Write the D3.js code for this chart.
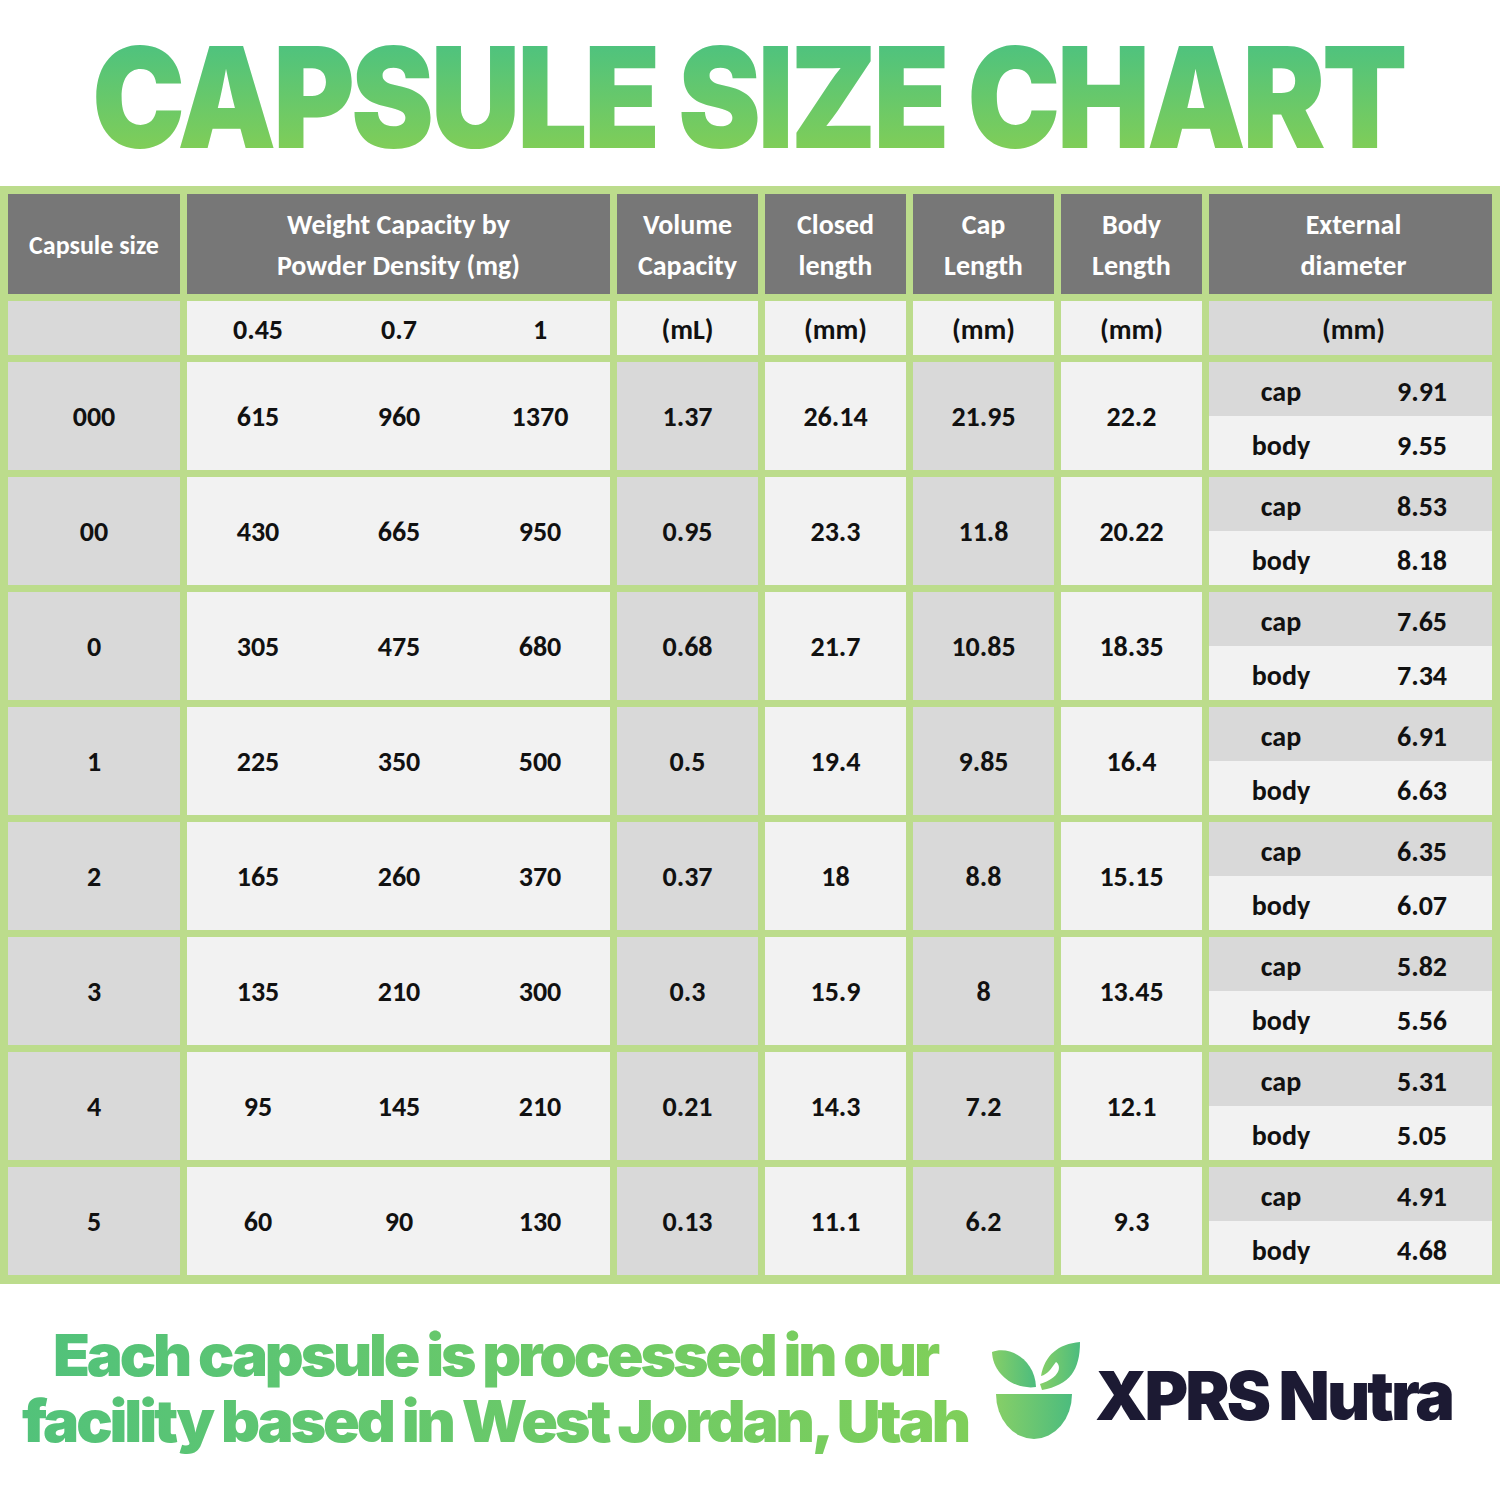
<!DOCTYPE html>
<html><head><meta charset="utf-8">
<script src="https://cdn.jsdelivr.net/npm/d3@7"></script>
<style>body{margin:0;background:#fff}svg{display:block}</style>
</head><body>
<script>
const sizes = ["000","00","0","1","2","3","4","5"];
const densities = ["0.45","0.7","1"];
const weight045 = [615,430,305,225,165,135,95,60];
const weight07 = [960,665,475,350,260,210,145,90];
const weight1 = [1370,950,680,500,370,300,210,130];
const volume = ["1.37","0.95","0.68","0.5","0.37","0.3","0.21","0.13"];
const closedLen = ["26.14","23.3","21.7","19.4","18","15.9","14.3","11.1"];
const capLen = ["21.95","11.8","10.85","9.85","8.8","8","7.2","6.2"];
const bodyLen = ["22.2","20.22","18.35","16.4","15.15","13.45","12.1","9.3"];
const capDiam = ["9.91","8.53","7.65","6.91","6.35","5.82","5.31","4.91"];
const bodyDiam = ["9.55","8.18","7.34","6.63","6.07","5.56","5.05","4.68"];
const headers = [["Capsule size"],["Weight Capacity by","Powder Density (mg)"],["Volume","Capacity"],["Closed","length"],["Cap","Length"],["Body","Length"],["External","diameter"]];
const units = ["","", "(mL)","(mm)","(mm)","(mm)","(mm)"];

const W=1500,H=1500;
const svg=d3.select("body").append("svg").attr("width",W).attr("height",H);
const defs=svg.append("defs");
const g1=defs.append("linearGradient").attr("id","tg").attr("x1",0).attr("y1",0).attr("x2",0).attr("y2",1);
g1.append("stop").attr("offset","0").attr("stop-color","#3fbf8a");
g1.append("stop").attr("offset","1").attr("stop-color","#8fd14c");
const g2=defs.append("linearGradient").attr("id","fg").attr("x1",0).attr("y1",0).attr("x2",1).attr("y2",0);
g2.append("stop").attr("offset","0").attr("stop-color","#52c27a");
g2.append("stop").attr("offset","1").attr("stop-color","#7fcf5a");
const g3=defs.append("linearGradient").attr("id","lg").attr("x1",0).attr("y1",0).attr("x2",1).attr("y2",0);
g3.append("stop").attr("offset","0").attr("stop-color","#86cf67");
g3.append("stop").attr("offset","1").attr("stop-color","#4cbc7e");

// title
svg.append("text").attr("x",748).attr("y",148).attr("text-anchor","middle")
 .attr("font-family","Inter").attr("font-weight",900).attr("font-size",140).attr("letter-spacing",-4)
 .attr("fill","url(#tg)").attr("textLength",1312).attr("lengthAdjust","spacingAndGlyphs").text("CAPSULE SIZE CHART");

// table
const green="#bcdc8c";
svg.append("rect").attr("x",0).attr("y",186).attr("width",1500).attr("height",1098).attr("fill",green);
const colEdges=[8,187,617,765,913,1061,1209,1499];
const x=d3.scaleOrdinal().domain(d3.range(7)).range(colEdges.slice(0,7));
const cw=i=>colEdges[i+1]-colEdges[i]-7;
const y=d3.scaleBand().domain(sizes).range([362,1282]).paddingInner(0);
const rh=y.bandwidth()-7;
const font="Calibri, Carlito, 'Open Sans', sans-serif";
const txt=(px,py,s,opt={})=>svg.append("text").attr("x",px).attr("y",py).attr("text-anchor",opt.anchor||"middle")
 .attr("dominant-baseline","central").attr("font-family",font).attr("font-weight",700)
 .attr("font-size",opt.size||28).attr("fill",opt.fill||"#111").text(s);

// header
headers.forEach((h,i)=>{
 svg.append("rect").attr("x",x(i)).attr("y",194).attr("width",cw(i)).attr("height",100).attr("fill","#777");
 const cx=x(i)+cw(i)/2+(i==6?3:0);
 h.forEach((l,j)=>txt(cx, h.length==1?245:224+j*41, l,{fill:"#fff",size:h.length==1?26:28}));
});
// units row
units.forEach((u,i)=>{
 svg.append("rect").attr("x",x(i)).attr("y",301).attr("width",cw(i)).attr("height",54).attr("fill",(i==0||i==6)?"#d9d9d9":"#f2f2f2");
 if(u) txt(x(i)+cw(i)/2+(i==6?3:0),329,u);
});
const subX=[258,399,540];
densities.forEach((d,k)=>txt(subX[k],329,d));

// data
const weights=[weight045,weight07,weight1];
sizes.forEach((s,r)=>{
 const ry=y(s), cy=ry+rh/2;
 const fills=["#d9d9d9","#f2f2f2","#d9d9d9","#f2f2f2","#d9d9d9","#f2f2f2"];
 fills.forEach((f,i)=>svg.append("rect").attr("x",x(i)).attr("y",ry).attr("width",cw(i)).attr("height",rh).attr("fill",f));
 svg.append("rect").attr("x",x(6)).attr("y",ry).attr("width",cw(6)).attr("height",rh/2).attr("fill","#d9d9d9");
 svg.append("rect").attr("x",x(6)).attr("y",ry+rh/2).attr("width",cw(6)).attr("height",rh/2).attr("fill","#f2f2f2");
 txt(x(0)+cw(0)/2,cy,s);
 weights.forEach((w,k)=>txt(subX[k],cy,w[r]));
 [volume,closedLen,capLen,bodyLen].forEach((a,k)=>txt(x(k+2)+cw(k+2)/2,cy,a[r]));
 txt(1281,ry+29,"cap"); txt(1422,ry+29,capDiam[r]);
 txt(1281,ry+83,"body"); txt(1422,ry+83,bodyDiam[r]);
});

// footer
const ft=(py,s,len)=>svg.append("text").attr("x",495).attr("y",py).attr("text-anchor","middle")
 .attr("font-family","Inter").attr("font-weight",900).attr("font-size",58).attr("letter-spacing",-3)
 .attr("fill","url(#fg)").attr("textLength",len).attr("lengthAdjust","spacingAndGlyphs").text(s);
ft(1376,"Each capsule is processed in our",884);
ft(1442,"facility based in West Jordan, Utah",946);

// logo
const lg=svg.append("g").attr("fill","url(#lg)");
lg.append("path").attr("d","M996,1394 L1072,1394 A38,45 0 0 1 996,1394 Z");
lg.append("path").attr("d","M992,1352 C1010,1345 1035,1360 1036,1387 C1015,1390 993,1375 992,1352 Z");
lg.append("path").attr("d","M1080,1342 C1080,1370 1070,1385 1042,1390 L1040,1384 C1060,1378 1062,1366 1056,1362 C1050,1370 1048,1374 1041,1376 C1045,1355 1058,1344 1080,1342 Z");
svg.append("text").attr("x",1095).attr("y",1420).attr("font-family","Inter").attr("font-weight",900)
 .attr("font-size",68).attr("letter-spacing",-3).attr("fill","#1c1a33").attr("textLength",357).attr("lengthAdjust","spacingAndGlyphs").text("XPRS Nutra");
</script>
</body></html>
